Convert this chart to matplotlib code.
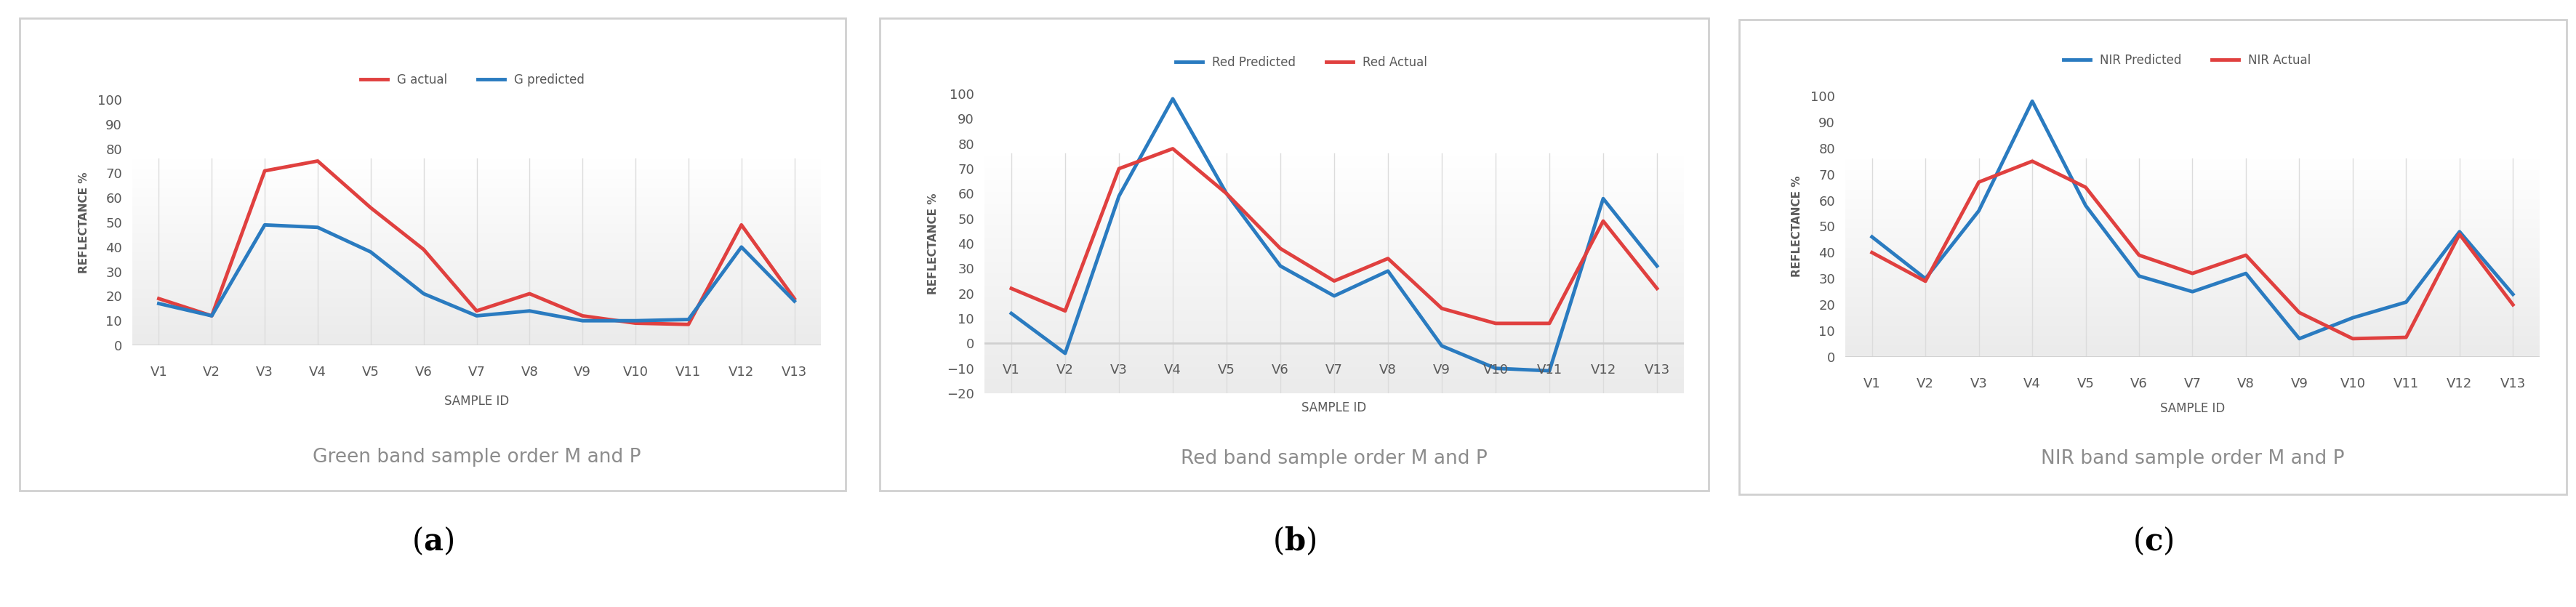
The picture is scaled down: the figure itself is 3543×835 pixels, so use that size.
import numpy as np
import matplotlib.pyplot as plt
from matplotlib.patches import Rectangle
from matplotlib.colors import LinearSegmentedColormap

W, H = 3543, 835
samples = ['V1', 'V2', 'V3', 'V4', 'V5', 'V6', 'V7', 'V8', 'V9', 'V10', 'V11', 'V12', 'V13']

g_actual = [19, 12, 71, 75, 56, 39, 14, 21, 12, 9, 8.5, 49, 19]
g_predicted = [17, 12, 49, 48, 38, 21, 12, 14, 10, 10, 10.5, 40, 18]
red_predicted = [12, -4, 59, 98, 60, 31, 19, 29, -1, -10, -11, 58, 31]
red_actual = [22, 13, 70, 78, 60, 38, 25, 34, 14, 8, 8, 49, 22]
nir_predicted = [46, 30, 56, 98, 58, 31, 25, 32, 7, 15, 21, 48, 24]
nir_actual = [40, 29, 67, 75, 65, 39, 32, 39, 17, 7, 7.5, 47, 20]

RED = '#e0403f'
BLUE = '#2a7bc0'
grad_cmap = LinearSegmentedColormap.from_list('g', ['#ebebeb', '#ffffff'])

fig = plt.figure(figsize=(W / 100, H / 100), dpi=100)


def fx(px):
    return px / W


def fy(py):
    return 1 - py / H


def panel(box, area, ymin, series, pos, title, letter):
    bx0, by0, bx1, by1 = box
    fig.patches.append(Rectangle((fx(bx0), fy(by1)), fx(bx1 - bx0), (by1 - by0) / H,
                                 transform=fig.transFigure, facecolor='white',
                                 edgecolor='#d0d0d0', linewidth=2, zorder=-5))
    x0, ytop, x1, ybot = area
    ax = fig.add_axes([fx(x0), fy(ybot), fx(x1 - x0), (ybot - ytop) / H])
    ax.set_zorder(2)
    ax.set_facecolor('none')
    x = np.arange(len(samples))
    ax.set_xlim(-0.5, len(samples) - 0.5)
    ax.set_ylim(ymin, 100)
    # soft gradient background
    grad = np.linspace(0, 1, 100).reshape(-1, 1)
    ax.imshow(grad, extent=(-0.5, len(samples) - 0.5, ymin, 76), aspect='auto',
              cmap=grad_cmap, origin='lower', zorder=0)
    for xi in x:
        ax.plot([xi, xi], [ymin if ymin < 0 else 0, 76], color='#dcdcdc', lw=1, zorder=1)
    ax.axhline(0, color='#d0d0d0', lw=2, zorder=1)
    for label, vals, col in series:
        ax.plot(x, vals, color=col, lw=3.5, label=label, zorder=3)
    for s in ax.spines.values():
        s.set_visible(False)
    ax.set_yticks(np.arange(ymin, 101, 10))
    ax.tick_params(axis='y', length=0, labelsize=13, labelcolor='#595959', pad=10)
    ax.set_xticks([])
    for xi, s in zip(x, samples):
        ax.annotate(s, (xi, 0), xytext=(0, -20), textcoords='offset points',
                    ha='center', va='top', fontsize=13, color='#595959', zorder=4)
    ax.set_ylabel('REFLECTANCE %', fontsize=11, fontweight='bold', color='#595959', labelpad=8)
    cx = (x0 + x1) / 2
    fig.text(fx(cx), fy(pos[1]), 'SAMPLE ID', ha='center', va='center',
             fontsize=12, color='#595959')
    fig.text(fx(cx), fy(pos[2]), title, ha='center', va='center',
             fontsize=19, color='#8c8c8c')
    fig.legend(*ax.get_legend_handles_labels(), loc='center', ncol=2, frameon=False,
               bbox_to_anchor=(fx(pos[3]), fy(pos[0])), fontsize=12,
               handlelength=2.2, columnspacing=2.5, labelcolor='#595959')
    fig.text(fx((bx0 + bx1) / 2), fy(745), r'($\mathbf{%s}$)' % letter, ha='center',
             va='center', fontsize=30, family='DejaVu Serif',
             math_fontfamily='dejavuserif')
    return ax


panel((27, 25, 1163, 675), (182, 137, 1129, 475), 0,
      [('G actual', g_actual, RED), ('G predicted', g_predicted, BLUE)],
      (110, 552, 629, 650), 'Green band sample order M and P', 'a')
panel((1210, 25, 2350, 675), (1354, 129, 2316, 541), -20,
      [('Red Predicted', red_predicted, BLUE), ('Red Actual', red_actual, RED)],
      (86, 561, 631, 1790), 'Red band sample order M and P', 'b')
panel((2392, 27, 3530, 680), (2538, 132, 3493, 491), 0,
      [('NIR Predicted', nir_predicted, BLUE), ('NIR Actual', nir_actual, RED)],
      (83, 562, 631, 3008), 'NIR band sample order M and P', 'c')

fig.savefig('out.png', dpi=100)
